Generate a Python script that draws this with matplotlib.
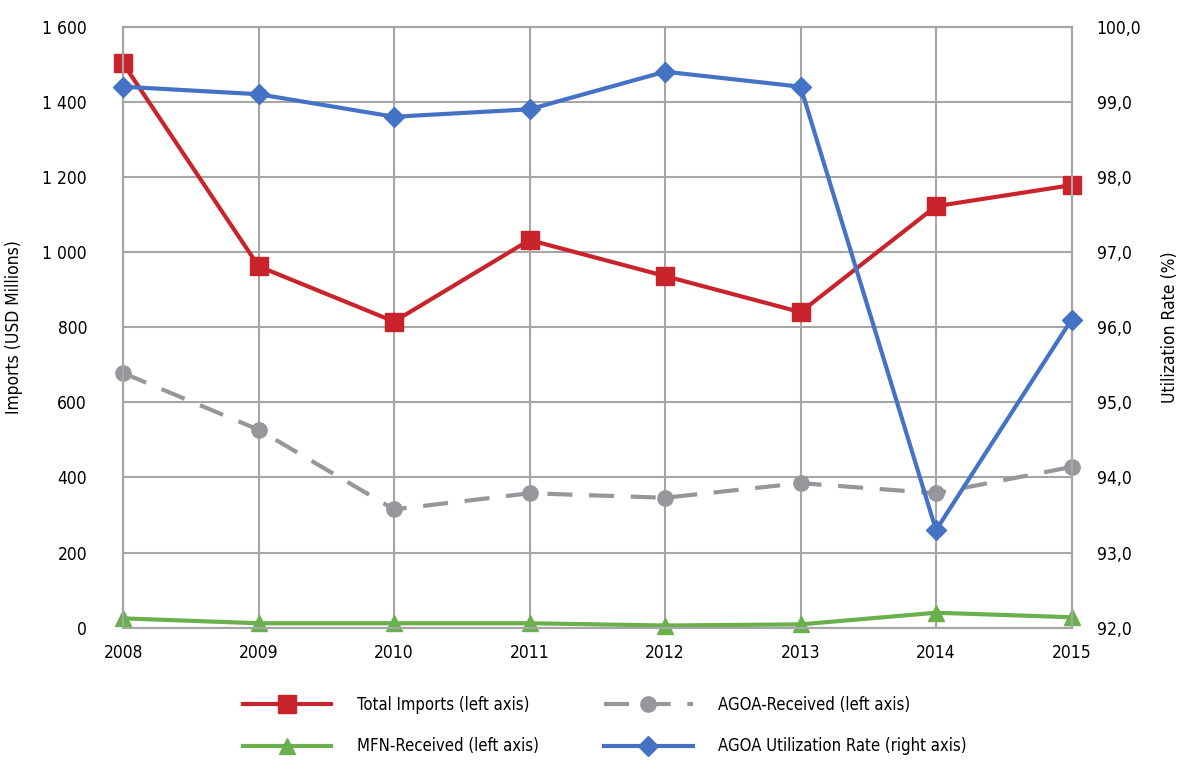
import matplotlib.pyplot as plt
import matplotlib
from matplotlib.ticker import FuncFormatter

matplotlib.rcParams['font.family'] = ['DejaVu Sans']
matplotlib.rcParams['font.stretch'] = 'condensed'

years = [2008, 2009, 2010, 2011, 2012, 2013, 2014, 2015]
total_imports = [1502, 962, 815, 1032, 936, 840, 1122, 1178]
agoa_received = [678, 527, 315, 358, 346, 385, 358, 428]
mfn_received = [25, 12, 12, 12, 6, 9, 40, 28]
utilization = [99.2, 99.1, 98.8, 98.9, 99.4, 99.2, 93.3, 96.1]

GRID = '#a6a6a6'

fig = plt.figure(figsize=(11.84, 7.6), dpi=100)
ax = fig.add_axes([0.104, 0.174, 0.801, 0.791])
ax2 = ax.twinx()

l1, = ax.plot(years, total_imports, '-s', color='#c9232b', linewidth=3,
              markersize=13, label='Total Imports (left axis)', zorder=4, clip_on=False)
l2, = ax.plot(years, agoa_received, '--o', color='#96979b', linewidth=3,
              markersize=11, dashes=(6, 4), label='AGOA-Received (left axis)',
              zorder=3, clip_on=False)
l3, = ax.plot(years, mfn_received, '-^', color='#6ab04c', linewidth=3,
              markersize=11, label='MFN-Received (left axis)', zorder=3, clip_on=False)
l4, = ax2.plot(years, utilization, '-D', color='#4472c4', linewidth=3,
               markersize=10, label='AGOA Utilization Rate (right axis)', zorder=4,
               clip_on=False)

ax.set_xlim(2008, 2015)
ax.set_ylim(0, 1600)
ax.set_yticks(range(0, 1601, 200))
ax.yaxis.set_major_formatter(FuncFormatter(lambda v, p: f'{int(v):,}'.replace(',', ' ')))
ax2.set_ylim(92, 100)
ax2.set_yticks(range(92, 101))
ax2.yaxis.set_major_formatter(FuncFormatter(lambda v, p: f'{v:.1f}'.replace('.', ',')))
ax.set_xticks(years)

ax.grid(True, color=GRID, linewidth=1.5)
ax.set_axisbelow(True)
for a in (ax, ax2):
    for s in a.spines.values():
        s.set_color(GRID)
        s.set_linewidth(1.5)
    a.tick_params(length=0, labelsize=12.5, colors='black')
ax.tick_params(axis='y', pad=26)
ax.tick_params(axis='x', pad=12)
ax2.tick_params(axis='y', pad=18)

ax.set_ylabel('Imports (USD Millions)', fontsize=12.5, labelpad=14)
ax2.set_ylabel('Utilization Rate (%)', fontsize=12.5, labelpad=14)

fig.legend(handles=[l1, l3, l2, l4], loc='center', bbox_to_anchor=(0.511, 0.045),
           ncol=2, frameon=False, fontsize=12, handlelength=5.3,
           columnspacing=3.9, handletextpad=1.55, labelspacing=1.4)

fig.savefig('out.png', dpi=100)
